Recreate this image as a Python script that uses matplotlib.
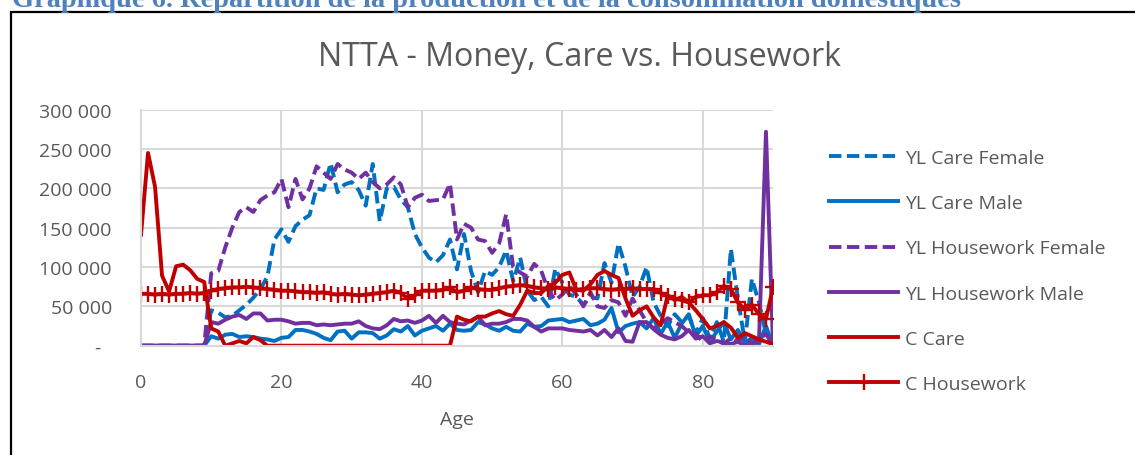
import matplotlib
matplotlib.use('Agg')
import numpy as np
import matplotlib.pyplot as plt
from matplotlib.patches import Rectangle
from matplotlib.ticker import FuncFormatter

plt.rcParams['font.family'] = ['Open Sans', 'DejaVu Sans']

ages = list(range(91))

# values in thousands
yl_care_female = [0, 0, 0, 0, 0, 0, 0, 0, 0, 0,
                  45, 42, 36, 38, 45, 52, 61, 72, 88, 135,
                  148, 132, 152, 160, 166, 200, 198, 232, 195, 205,
                  208, 198, 178, 231, 158, 200, 202, 186, 176, 142,
                  125, 112, 106, 115, 135, 97, 142, 95, 68, 95,
                  90, 100, 121, 82, 112, 70, 58, 62, 50, 98,
                  80, 65, 62, 52, 62, 60, 105, 80, 130, 100,
                  62, 75, 100, 55, 38, 25, 40, 30, 38, 15,
                  35, 8, 30, 5, 123, 60, 5, 85, 55, 15, 5]
yl_care_male = [0, 0, 0, 0, 0, 0, 0, 0, 0, 0,
                12, 9, 14, 15, 11, 12, 11, 9, 8, 6,
                10, 11, 20, 20, 18, 15, 10, 7, 18, 19,
                9, 17, 17, 16, 9, 13, 21, 18, 25, 13,
                19, 22, 25, 19, 28, 20, 19, 20, 30, 27,
                22, 19, 24, 19, 18, 28, 24, 25, 32, 33,
                34, 30, 32, 34, 26, 28, 33, 48, 17, 25,
                28, 30, 22, 35, 15, 30, 10, 28, 40, 12,
                25, 5, 18, 30, 8, 20, 3, 10, 2, 25, 0]
yl_hw_female = [0, 0, 0, 0, 0, 0, 0, 0, 0, 0,
                92, 95, 125, 150, 170, 176, 170, 185, 191, 195,
                212, 176, 212, 186, 200, 228, 220, 212, 231, 224,
                220, 212, 220, 208, 200, 205, 214, 205, 176, 188,
                192, 184, 185, 186, 206, 135, 155, 150, 135, 133,
                118, 130, 167, 100, 93, 88, 104, 95, 70, 58,
                65, 76, 65, 50, 68, 50, 48, 58, 55, 38,
                60, 45, 30, 22, 28, 35, 30, 25, 17, 15,
                5, 12, 8, 2, 10, 5, 12, 3, 8, 15, 0]
yl_hw_male = [0, 0, 0, 0, 0, 0, 0, 0, 0, 0,
              30, 28, 33, 37, 39, 34, 41, 41, 32, 33,
              33, 31, 28, 29, 29, 26, 27, 26, 27, 28,
              28, 31, 25, 22, 21, 26, 34, 31, 32, 29,
              32, 38, 29, 38, 30, 28, 27, 32, 37, 26,
              28, 28, 30, 34, 34, 32, 24, 18, 22, 22,
              22, 20, 19, 18, 20, 13, 20, 11, 22, 6,
              5, 30, 30, 21, 14, 10, 8, 12, 20, 9,
              12, 3, 6, 4, 2, 5, 0, 2, 5, 272, 0]
c_care = [141, 245, 202, 89, 69, 101, 103, 96, 85, 81,
          22, 18, 0, 3, 6, 3, 11, 7, 0, 0,
          0, 0, 0, 0, 0, 0, 0, 0, 0, 0,
          0, 0, 0, 0, 0, 0, 0, 0, 0, 0,
          0, 0, 0, 0, 0, 37, 33, 31, 37, 37,
          41, 44, 40, 38, 52, 70, 67, 67, 76, 80,
          90, 93, 71, 70, 78, 90, 95, 90, 86, 60,
          38, 45, 50, 36, 26, 64, 58, 62, 55, 45,
          34, 22, 25, 30, 23, 10, 16, 12, 8, 5, 2]
c_housework = [66, 66, 65, 66, 65, 66, 66, 67, 66, 67,
               70, 72, 73, 74, 74, 75, 74, 73, 72, 71,
               70, 70, 69, 68, 68, 67, 68, 66, 65, 66,
               65, 64, 65, 66, 67, 68, 70, 67, 60, 64,
               70, 70, 70, 71, 74, 68, 70, 74, 72, 71,
               71, 73, 75, 76, 77, 76, 74, 73, 72, 74,
               73, 72, 71, 72, 73, 73, 72, 71, 72, 72,
               73, 72, 72, 72, 67, 63, 60, 58, 55, 62,
               64, 64, 68, 76, 72, 55, 46, 52, 40, 34, 74]

labels = ['YL Care Female', 'YL Care Male', 'YL Housework Female',
          'YL Housework Male', 'C Care', 'C Housework']

blue = '#0070C0'
purple = '#7030A0'
red = '#C00000'
grey = '#595959'

fig = plt.figure(figsize=(11.35, 4.56), dpi=100)
ax = fig.add_axes([141/1135, 1-346.7/456, (773-141)/1135, (346.7-110.7)/456])

k = np.array(ages)
lw = 2.8
ax.plot(k, np.array(yl_care_female)*1000, color=blue, lw=lw, dashes=(3.2, 1.4), label=labels[0])
ax.plot(k, np.array(yl_care_male)*1000, color=blue, lw=lw, label=labels[1])
ax.plot(k, np.array(yl_hw_female)*1000, color=purple, lw=lw, dashes=(3.2, 1.4), label=labels[2])
ax.plot(k, np.array(yl_hw_male)*1000, color=purple, lw=lw, label=labels[3])
ax.plot(k, np.array(c_care)*1000, color=red, lw=lw, label=labels[4])
ax.plot(k, np.array(c_housework)*1000, color=red, lw=lw, marker='+', ms=11, mew=1.7, label=labels[5])

ax.set_xlim(0, 90)
ax.set_ylim(0, 300000)
ax.set_xticks([0, 20, 40, 60, 80])
ax.set_yticks(range(0, 300001, 50000))
ax.yaxis.set_major_formatter(FuncFormatter(lambda v, p: '-  ' if v == 0 else f'{v:,.0f}'.replace(',', ' ')))
ax.grid(True, color='#D9D9D9', lw=1.5)
ax.set_axisbelow(True)
for s in ['top', 'right']:
    ax.spines[s].set_visible(False)
for s in ['left', 'bottom']:
    ax.spines[s].set_color('#D9D9D9')
    ax.spines[s].set_linewidth(1.5)
ax.tick_params(axis='both', length=0, labelsize=14, labelcolor=grey)
ax.tick_params(axis='y', pad=21)
ax.tick_params(axis='x', pad=20)
ax.set_xlabel('Age', fontsize=14, color=grey, labelpad=13)

fig.text(580/1135, 1-57/456, 'NTTA - Money, Care vs. Housework', fontsize=23.2,
         color=grey, ha='center', va='center')

ax.legend(loc='upper left', bbox_to_anchor=(829/1135, 1-150/456), bbox_transform=fig.transFigure,
          frameon=False, fontsize=14, labelcolor=grey, handlelength=3.55, handletextpad=0.35,
          labelspacing=1.4, borderpad=0, borderaxespad=0)

# document caption above the chart box, cut off at the top as in the source page
fig.text(12/1135, 1-7/456, 'Graphique 6. Répartition de la production et de la consommation domestiques',
         family='Liberation Serif', fontweight='bold', fontsize=20.4, color='#4F81BD',
         ha='left', va='baseline')

fig.patches.append(Rectangle((11/1135, -0.1), 1.2, 1-12.5/456+0.1, transform=fig.transFigure,
                             fill=False, ec='black', lw=1.6, clip_on=False))

plt.savefig('out.png', dpi=100)
